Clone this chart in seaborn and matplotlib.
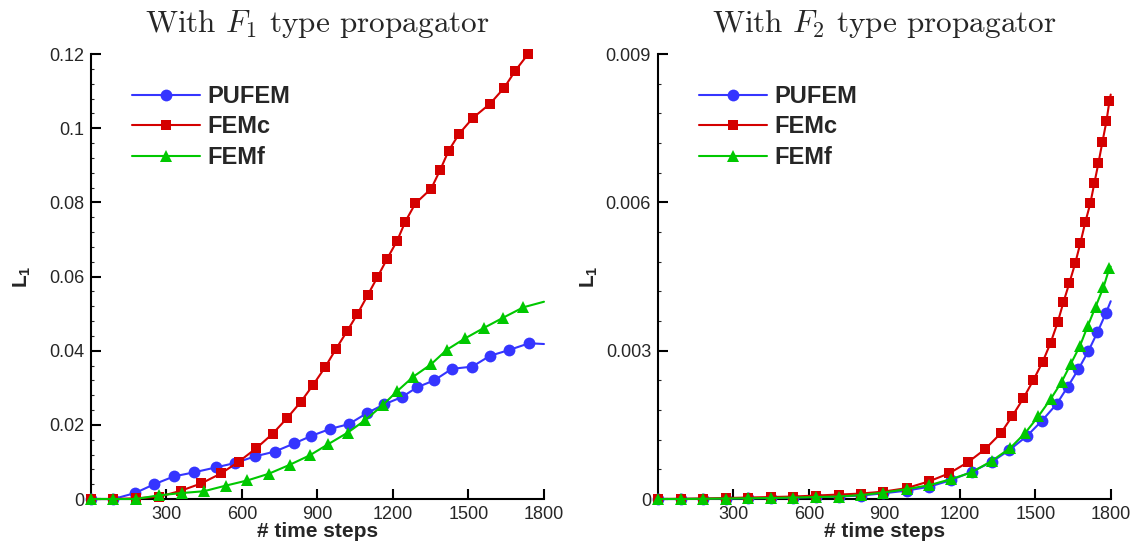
import matplotlib
matplotlib.use('Agg')
import matplotlib.pyplot as plt
import seaborn as sns
from matplotlib.ticker import FixedLocator, MultipleLocator

# ---------------- data ----------------
# Left panel: F1 type propagator
steps_pufem_f1 = [0, 89, 175, 252, 330, 410, 495, 572, 652, 731, 808, 875, 950, 1025,
                  1095, 1164, 1236, 1295, 1364, 1434, 1515, 1585, 1662, 1741]
l1_pufem_f1 = [0, 0, 0.0016, 0.0040, 0.0061, 0.0072, 0.0085, 0.0097, 0.0115, 0.0128,
               0.0150, 0.0170, 0.0189, 0.0202, 0.0231, 0.0255, 0.0275, 0.0301, 0.0320,
               0.0351, 0.0357, 0.0386, 0.0402, 0.0420]
end_pufem_f1 = (1800, 0.0418)

steps_femc_f1 = [0, 89, 178, 270, 356, 438, 517, 588, 657, 722, 779, 834, 882, 930, 973,
                 1018, 1058, 1099, 1138, 1177, 1217, 1249, 1289, 1352, 1388, 1421, 1463,
                 1518, 1586, 1642, 1686, 1737]
l1_femc_f1 = [0, 0, 0.0002, 0.0006, 0.0022, 0.0042, 0.0069, 0.0101, 0.0137, 0.0176,
              0.0218, 0.0262, 0.0307, 0.0355, 0.0404, 0.0453, 0.0498, 0.0549, 0.0598,
              0.0648, 0.0697, 0.0748, 0.0797, 0.0837, 0.0888, 0.0939, 0.0985, 0.1028,
              0.1066, 0.1109, 0.1155, 0.1200]
end_femc_f1 = None

steps_femf_f1 = [0, 89, 178, 270, 360, 449, 535, 621, 706, 789, 870, 943, 1020, 1090,
                 1159, 1217, 1281, 1351, 1413, 1486, 1563, 1638, 1718]
l1_femf_f1 = [0, 0, 0, 0.0010, 0.0016, 0.0021, 0.0036, 0.0050, 0.0068, 0.0092, 0.0118,
              0.0148, 0.0179, 0.0213, 0.0253, 0.0291, 0.0330, 0.0363, 0.0402, 0.0433,
              0.0462, 0.0489, 0.0517]
end_femf_f1 = (1800, 0.0532)

# Right panel: F2 type propagator
steps_pufem_f2 = [0, 90, 179, 269, 358, 448, 538, 628, 718, 807, 896, 989, 1079, 1164,
                  1247, 1327, 1397, 1466, 1526, 1585, 1629, 1671, 1711, 1747, 1781]
l1_pufem_f2 = [0, 0, 0.000005, 0.00001, 0.000015, 0.00002, 0.00003, 0.00004, 0.00005,
               0.00007, 0.000115, 0.00017, 0.00025, 0.00038, 0.00055, 0.00075, 0.00099,
               0.00127, 0.00158, 0.00192, 0.00227, 0.00262, 0.00299, 0.00337, 0.00376]
end_pufem_f2 = (1800, 0.00400)

steps_femc_f2 = [0, 90, 179, 269, 358, 448, 538, 628, 718, 807, 896, 989, 1079, 1158,
                 1234, 1301, 1363, 1409, 1453, 1492, 1530, 1561, 1589, 1612, 1635, 1659,
                 1679, 1699, 1719, 1735, 1751, 1767, 1783, 1795]
l1_femc_f2 = [0, 0.000005, 0.00001, 0.00002, 0.00003, 0.00004, 0.00005, 0.00007, 0.00009,
              0.00011, 0.00015, 0.00022, 0.00036, 0.00052, 0.00075, 0.00101, 0.00133,
              0.00168, 0.00204, 0.00240, 0.00278, 0.00316, 0.00357, 0.00398, 0.00436,
              0.00477, 0.00517, 0.00560, 0.00598, 0.00639, 0.00679, 0.00722, 0.00764,
              0.00805]
end_femc_f2 = (1800, 0.00818)

steps_femf_f2 = [0, 90, 179, 269, 358, 448, 538, 628, 718, 807, 896, 989, 1079, 1164,
                 1247, 1327, 1400, 1459, 1512, 1561, 1605, 1641, 1678, 1708, 1740, 1771,
                 1795]
l1_femf_f2 = [0, 0, 0.000005, 0.00001, 0.000015, 0.00002, 0.00003, 0.00004, 0.00005,
              0.00008, 0.00013, 0.00020, 0.00028, 0.00040, 0.00054, 0.00077, 0.00103,
              0.00133, 0.00167, 0.00202, 0.00237, 0.00273, 0.00310, 0.00349, 0.00389,
              0.00428, 0.00467]
end_femf_f2 = (1800, 0.00470)

labels = ['PUFEM', 'FEMc', 'FEMf']
titles = [r'With $F_1$ type propagator', r'With $F_2$ type propagator']
x_ticks = [300, 600, 900, 1200, 1500, 1800]
x_ticklabels = ['300', '600', '900', '1200', '1500', '1800']
y_ticks_f1 = [0, 0.02, 0.04, 0.06, 0.08, 0.1, 0.12]
y_ticklabels_f1 = ['0', '0.02', '0.04', '0.06', '0.08', '0.1', '0.12']
y_ticks_f2 = [0, 0.003, 0.006, 0.009]
y_ticklabels_f2 = ['0', '0.003', '0.006', '0.009']
x_label = '# time steps'
y_label = r'$\mathbf{L_1}$'

# ---------------- style ----------------
sns.set_style('ticks')
plt.rcParams['font.family'] = ['Liberation Sans', 'DejaVu Sans']
plt.rcParams['mathtext.fontset'] = 'custom'
plt.rcParams['mathtext.rm'] = 'Liberation Sans'
plt.rcParams['mathtext.bf'] = 'Liberation Sans:bold'
plt.rcParams['mathtext.it'] = 'Liberation Sans:italic'

colors = ['#3535ff', '#d40000', '#00c800']
markers = ['o', 's', '^']
msizes = [8.5, 7.0, 9.0]

fig = plt.figure(figsize=(11.44, 5.44), dpi=100)
ax1 = fig.add_axes([0.0795, 0.0827, 0.396, 0.818])
ax2 = fig.add_axes([0.5752, 0.0827, 0.3957, 0.818])


def draw(ax, xs, ys, end, color, marker, ms, label):
    n = len(xs)
    lx = list(xs) + ([end[0]] if end else [])
    ly = list(ys) + ([end[1]] if end else [])
    sns.lineplot(x=lx, y=ly, ax=ax, color=color, linewidth=1.5, marker=marker,
                 markersize=ms, markevery=list(range(n)), markeredgewidth=0,
                 markeredgecolor=color, label=label, sort=False, estimator=None,
                 clip_on=False, zorder=5)


panels = [
    (ax1, [(steps_pufem_f1, l1_pufem_f1, end_pufem_f1),
           (steps_femc_f1, l1_femc_f1, end_femc_f1),
           (steps_femf_f1, l1_femf_f1, end_femf_f1)],
     y_ticks_f1, y_ticklabels_f1, 0.12, 0.004, titles[0]),
    (ax2, [(steps_pufem_f2, l1_pufem_f2, end_pufem_f2),
           (steps_femc_f2, l1_femc_f2, end_femc_f2),
           (steps_femf_f2, l1_femf_f2, end_femf_f2)],
     y_ticks_f2, y_ticklabels_f2, 0.009, 0.0006, titles[1]),
]

for ax, series, yt, ytl, ymax, yminor, title in panels:
    for (xs, ys, end), c, m, ms, lab in zip(series, colors, markers, msizes, labels):
        draw(ax, xs, ys, end, c, m, ms, lab)
    ax.set_xlim(0, 1800)
    ax.set_ylim(0, ymax)
    ax.xaxis.set_major_locator(FixedLocator(x_ticks))
    ax.set_xticklabels(x_ticklabels)
    ax.yaxis.set_major_locator(FixedLocator(yt))
    ax.set_yticklabels(ytl)
    ax.yaxis.set_minor_locator(MultipleLocator(yminor))
    ax.tick_params(axis='both', which='major', direction='in', length=7, width=1.5,
                   labelsize=13, pad=5, color='black')
    ax.tick_params(axis='y', which='minor', direction='in', length=2.5, width=0.8)
    for s in ['top', 'right']:
        ax.spines[s].set_visible(False)
    for s in ['left', 'bottom']:
        ax.spines[s].set_linewidth(1.5)
        ax.spines[s].set_color('black')
        ax.spines[s].set_zorder(4)
    ax.set_title(title, fontsize=22.5, fontfamily='cmr10', math_fontfamily='cm', pad=16)
    ax.set_xlabel(x_label, fontsize=15, fontweight='bold')
    ax.xaxis.set_label_coords(0.5, -0.052)
    ax.set_ylabel(y_label, fontsize=15)
    ax.yaxis.set_label_coords(-0.128, 0.5)
    h, l = ax.get_legend_handles_labels()
    ax.legend(h, l, loc='upper left', bbox_to_anchor=(0.09, 0.93), frameon=False,
              borderpad=0, borderaxespad=0, handlelength=2.9, handletextpad=0.3,
              labelspacing=0.31, prop={'weight': 'bold', 'size': 17})

fig.savefig('out.png', dpi=100)
